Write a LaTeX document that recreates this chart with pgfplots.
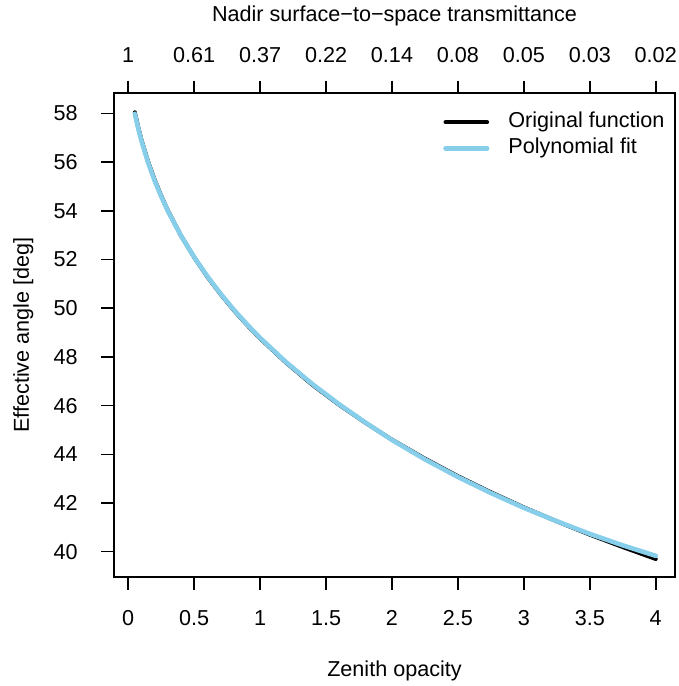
\documentclass[border=0pt]{standalone}
\usepackage{fontspec}
\setmainfont{Liberation Sans}
\usepackage{pgfplots}
\pgfplotsset{compat=1.18}
\usepackage{pgfplotstable}

\definecolor{skyblue}{RGB}{135,206,235}

% original function: effective angle vs zenith opacity
\pgfplotstableread{
tau  ang
0.05  58.05
0.075 57.45
0.1   56.92
0.15  56.03
0.2   55.28
0.25  54.62
0.3   54.02
0.4   52.98
0.5   52.09
0.6   51.29
0.7   50.58
0.8   49.92
0.9   49.32
1.0   48.76
1.2   47.75
1.4   46.84
1.6   46.03
1.8   45.29
2.0   44.60
2.25  43.82
2.5   43.10
2.75  42.44
3.0   41.82
3.25  41.245
3.5   40.70
3.75  40.19
4.0   39.70
}\orig

% polynomial fit
\pgfplotstableread{
tau  ang
0.05  57.99
0.075 57.40
0.1   56.88
0.15  55.99
0.2   55.24
0.25  54.59
0.3   54.00
0.4   52.98
0.5   52.10
0.6   51.31
0.7   50.60
0.8   49.94
0.9   49.34
1.0   48.78
1.2   47.77
1.4   46.87
1.6   46.05
1.8   45.30
2.0   44.59
2.25  43.79
2.5   43.07
2.75  42.41
3.0   41.80
3.25  41.25
3.5   40.73
3.75  40.26
4.0   39.83
}\polyfit

\begin{document}
\fontsize{10.8}{13}\selectfont
\begin{tikzpicture}
\useasboundingbox (-57pt,-54.5pt) rectangle (282.5pt,288.5pt);
\pgfplotsset{
  rstyle/.style={
    scale only axis,
    width=280.5pt, height=241.85pt,
    at={(0,0)}, anchor=south west,
    xmin=-0.108, xmax=4.146,
    ymin=38.96, ymax=58.83,
    tick align=outside,
    major tick length=6.3pt,
    every tick/.style={black, line width=0.8pt},
    axis line style={line width=0.85pt},
    /pgf/number format/assume math mode=true,
  },
}
\begin{axis}[
  rstyle,
  xtick pos=bottom, ytick pos=left,
  xtick={0,0.5,...,4},
  ytick={40,42,...,58},
  xticklabel style={anchor=base, yshift=-17.7pt},
  yticklabel style={anchor=east, inner sep=0pt, xshift=-11.7pt},
  xlabel={Zenith opacity},
  ylabel={Effective angle [deg]},
  xlabel style={at={(axis description cs:0.5,-0.206)}, anchor=base},
  ylabel style={at={(axis description cs:-0.1617,0.5)}, anchor=center, rotate=0},
  legend cell align=left,
  legend style={draw=none, fill=none, inner sep=0pt,
    at={(axis description cs:0.982,0.962)}, anchor=north east,
    row sep=2.8pt, column sep=9.5pt,
    nodes={inner sep=0pt, text height=7.9pt, text depth=2.3pt}},
  legend image code/.code={\draw[#1] (0pt,0pt) -- (20.8pt,0pt);},
]
\addplot[black, line width=2pt, line cap=round, line join=round] table[x=tau, y=ang] {\orig};
\addlegendentry{Original function}
\addplot[skyblue, line width=2.3pt, line cap=round, line join=round] table[x=tau, y=ang] {\polyfit};
\addlegendentry{Polynomial fit}
\end{axis}
\begin{axis}[
  rstyle,
  axis x line*=top, axis y line=none,
  xtick={0,0.5,...,4},
  xticklabels={1,0.61,0.37,0.22,0.14,0.08,0.05,0.03,0.02},
  xticklabel style={anchor=base, yshift=9pt},
  xlabel={Nadir surface−to−space transmittance},
  xlabel style={at={(axis description cs:0.5,1.148)}, anchor=base},
]
\end{axis}
\end{tikzpicture}
\end{document}
